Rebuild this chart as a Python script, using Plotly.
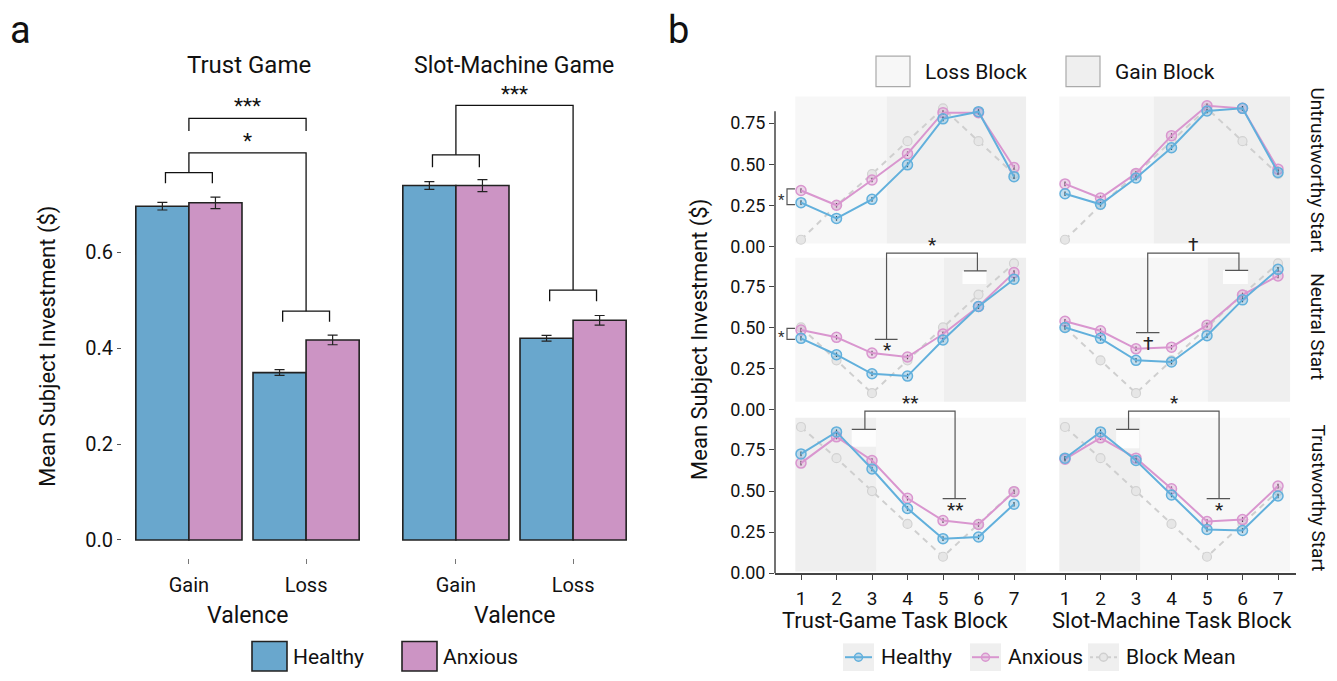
import plotly.graph_objects as go

W, H = 1337, 681
def fx(px): return px / W
def fy(py): return 1 - py / H

FONT = "Roboto, Liberation Sans, sans-serif"
TXT = "#111111"

# ---------------- Panel a data ----------------
valence = ["Gain", "Loss"]
trust_healthy = [0.696, 0.349]
trust_anxious = [0.703, 0.417]
trust_healthy_se = [0.008, 0.006]
trust_anxious_se = [0.012, 0.010]
slot_healthy = [0.739, 0.4205]
slot_anxious = [0.739, 0.458]
slot_healthy_se = [0.008, 0.006]
slot_anxious_se = [0.0125, 0.010]
bar_yticks = [0.0, 0.2, 0.4, 0.6]

# ---------------- Panel b data ----------------
blocks = [1, 2, 3, 4, 5, 6, 7]
starts = ["Untrustworthy Start", "Neutral Start", "Trustworthy Start"]
games = ["Trust-Game Task Block", "Slot-Machine Task Block"]

untr_mean = [0.04, 0.25, 0.44, 0.64, 0.84, 0.64, 0.44]
neut_mean = [0.50, 0.30, 0.10, 0.30, 0.50, 0.70, 0.89]
trus_mean = [0.89, 0.70, 0.50, 0.30, 0.10, 0.30, 0.50]

tg_untr_healthy = [0.266, 0.170, 0.286, 0.496, 0.776, 0.820, 0.424]
tg_untr_anxious = [0.340, 0.250, 0.404, 0.564, 0.814, 0.814, 0.480]
sm_untr_healthy = [0.320, 0.256, 0.416, 0.600, 0.824, 0.840, 0.450]
sm_untr_anxious = [0.380, 0.294, 0.444, 0.674, 0.856, 0.840, 0.470]

tg_neut_healthy = [0.434, 0.334, 0.218, 0.204, 0.424, 0.628, 0.794]
tg_neut_anxious = [0.484, 0.440, 0.344, 0.320, 0.460, 0.628, 0.834]
sm_neut_healthy = [0.500, 0.434, 0.300, 0.290, 0.450, 0.668, 0.854]
sm_neut_anxious = [0.538, 0.480, 0.370, 0.380, 0.514, 0.698, 0.814]

tg_trus_healthy = [0.726, 0.860, 0.634, 0.394, 0.210, 0.220, 0.420]
tg_trus_anxious = [0.670, 0.830, 0.686, 0.456, 0.320, 0.296, 0.496]
sm_trus_healthy = [0.700, 0.860, 0.686, 0.476, 0.266, 0.260, 0.470]
sm_trus_anxious = [0.694, 0.824, 0.700, 0.514, 0.314, 0.326, 0.530]

line_yticks = [0.0, 0.25, 0.5, 0.75]

# block shading: (first block type, switch position) per panel [row][col]
shade_first = ["Loss", "Loss", "Gain"]
shade_switch = [[3.41, 3.50], [5.03, 5.02], [3.13, 3.13]]
shade_x = [0.84, 7.34]
shade_y = [[0.018, 0.912], [0.048, 0.925], [0.01, 0.946]]

C_HEALTHY = "#69a7cd"
C_ANXIOUS = "#cc94c4"
L_HEALTHY = "#62b0dc"
L_ANXIOUS = "#d996cf"
L_MEAN = "#cfcfcf"
LOSS_BG = "#f7f7f7"
GAIN_BG = "#efefef"

fig = go.Figure()
layout = {}
shapes = []
annos = []

# ================= Panel a =================
a_y0, a_ppu = 548.0, 486.7
a_yr = [-(566 - a_y0) / a_ppu, (a_y0 - 76) / a_ppu]
a_ydom = [fy(a_y0 - a_yr[0] * a_ppu), fy(a_y0 - a_yr[1] * a_ppu)]
a_xr = [-0.571, 1.571]
a_xdoms = [[fx(122), fx(373)], [fx(389), fx(640)]]
panel_a = [(trust_healthy, trust_healthy_se, trust_anxious, trust_anxious_se),
           (slot_healthy, slot_healthy_se, slot_anxious, slot_anxious_se)]
for i, (h, hse, a, ase) in enumerate(panel_a):
    xn = "x" if i == 0 else "x2"
    yn = "y" if i == 0 else "y2"
    for vals, se, col in ((h, hse, C_HEALTHY), (a, ase, C_ANXIOUS)):
        fig.add_trace(go.Bar(
            x=list(range(len(valence))), y=vals, xaxis=xn, yaxis=yn,
            marker=dict(color=col, line=dict(color="#222222", width=1.6)),
            error_y=dict(type="data", array=se, color="#222222", thickness=1.2, width=5),
            showlegend=False, hoverinfo="skip"))
    layout["xaxis" if i == 0 else "xaxis2"] = dict(
        domain=a_xdoms[i], range=a_xr, anchor=yn,
        tickvals=list(range(len(valence))), ticktext=valence,
        ticks="outside", ticklen=5, tickcolor="#777777", tickwidth=1.2,
        showline=False, showgrid=False, zeroline=False, ticklabelstandoff=4,
        tickfont=dict(family=FONT, size=20, color=TXT))
    layout["yaxis" if i == 0 else "yaxis2"] = dict(
        domain=a_ydom, range=a_yr, anchor=xn,
        tickvals=bar_yticks, ticktext=[f"{v:.1f}" for v in bar_yticks],
        ticks="outside" if i == 0 else "", ticklen=4, tickcolor="#555555",
        showticklabels=(i == 0), showline=False, showgrid=False, zeroline=False,
        tickfont=dict(family=FONT, size=20, color=TXT))

def path(pts):
    return "M " + " L ".join(f"{x},{y}" for x, y in pts)

def add_path(pts, xr, yr, color="#111111", w=1.3):
    shapes.append(dict(type="path", path=path(pts), xref=xr, yref=yr,
                       line=dict(color=color, width=w), layer="above"))

# trust brackets
add_path([(-0.2, 0.744), (-0.2, 0.766), (0.2, 0.766), (0.2, 0.744)], "x", "y")
add_path([(0.8, 0.455), (0.8, 0.477), (1.2, 0.477), (1.2, 0.455)], "x", "y")
add_path([(0, 0.766), (0, 0.807), (1, 0.807), (1, 0.477)], "x", "y")
add_path([(0, 0.853), (0, 0.879), (1, 0.879), (1, 0.853)], "x", "y")
annos.append(dict(x=0.5, y=0.879, xref="x", yref="y", text="***", showarrow=False,
                  yanchor="bottom", yshift=-2, font=dict(family=FONT, size=21, color=TXT)))
annos.append(dict(x=0.5, y=0.807, xref="x", yref="y", text="*", showarrow=False,
                  yanchor="bottom", yshift=-2, font=dict(family=FONT, size=21, color=TXT)))
# slot brackets
add_path([(-0.2, 0.777), (-0.2, 0.803), (0.2, 0.803), (0.2, 0.777)], "x2", "y2")
add_path([(0.8, 0.498), (0.8, 0.521), (1.2, 0.521), (1.2, 0.498)], "x2", "y2")
add_path([(0, 0.803), (0, 0.906), (1, 0.906), (1, 0.521)], "x2", "y2")
annos.append(dict(x=0.5, y=0.906, xref="x2", yref="y2", text="***", showarrow=False,
                  yanchor="bottom", yshift=-3, font=dict(family=FONT, size=21, color=TXT)))

# ================= Panel b =================
b_ppu = 166.7
row_zero = [250.0, 415.7, 581.7]
row_range = [[-0.03, 1.0], [-0.03, 1.0], [0.0, 1.0]]
col_x1 = [801.0, 1065.0]
b_pxu = 35.5
col_dom = [[775.0, 1043.0], [1043.0, 1296.0]]

data_b = [
    [(tg_untr_healthy, tg_untr_anxious, untr_mean), (sm_untr_healthy, sm_untr_anxious, untr_mean)],
    [(tg_neut_healthy, tg_neut_anxious, neut_mean), (sm_neut_healthy, sm_neut_anxious, neut_mean)],
    [(tg_trus_healthy, tg_trus_anxious, trus_mean), (sm_trus_healthy, sm_trus_anxious, trus_mean)],
]

def ax_names(r, c):
    k = 3 + r * 2 + c
    return f"x{k}", f"y{k}", f"xaxis{k}", f"yaxis{k}"

for r in range(3):
    for c in range(2):
        xn, yn, xk, yk = ax_names(r, c)
        xr = [1 + (col_dom[c][0] - col_x1[c]) / b_pxu, 1 + (col_dom[c][1] - col_x1[c]) / b_pxu]
        yr = row_range[r]
        ydom = [fy(row_zero[r] - yr[0] * b_ppu), fy(row_zero[r] - yr[1] * b_ppu)]
        bottom = (r == 2)
        layout[xk] = dict(domain=[fx(col_dom[c][0]), fx(col_dom[c][1])], range=xr, anchor=yn,
                          tickvals=blocks, ticktext=[str(b) for b in blocks],
                          showticklabels=bottom, ticks="outside" if bottom else "",
                          ticklen=5, tickcolor="#444444", tickwidth=1.2,
                          showline=bottom, linecolor="#444444", linewidth=1.5,
                          showgrid=False, zeroline=False, ticklabelstandoff=2,
                          tickfont=dict(family=FONT, size=19, color=TXT))
        layout[yk] = dict(domain=ydom, range=yr, anchor=xn,
                          tickvals=line_yticks, ticktext=[f"{v:.2f}" for v in line_yticks],
                          showticklabels=(c == 0), ticks="outside" if c == 0 else "",
                          ticklen=5, tickcolor="#444444", tickwidth=1.2,
                          showline=False, showgrid=False, zeroline=False,
                          tickfont=dict(family=FONT, size=18, color=TXT))
        # block shading
        sw = shade_switch[r][c]
        first_col = LOSS_BG if shade_first[r] == "Loss" else GAIN_BG
        second_col = GAIN_BG if shade_first[r] == "Loss" else LOSS_BG
        shapes.append(dict(type="rect", xref=xn, yref=yn, x0=shade_x[0], x1=sw,
                           y0=shade_y[r][0], y1=shade_y[r][1], fillcolor=first_col,
                           line=dict(width=0), layer="below"))
        shapes.append(dict(type="rect", xref=xn, yref=yn, x0=sw, x1=shade_x[1],
                           y0=shade_y[r][0], y1=shade_y[r][1], fillcolor=second_col,
                           line=dict(width=0), layer="below"))
        h, a, m = data_b[r][c]
        fig.add_trace(go.Scatter(x=blocks, y=m, xaxis=xn, yaxis=yn, mode="lines+markers",
                                 line=dict(color=L_MEAN, width=2, dash="6px,5px"),
                                 marker=dict(size=9, color="#e6e6e6", line=dict(color="#d2d2d2", width=1.2)),
                                 showlegend=False, hoverinfo="skip"))
        for vals, lc, fc in ((a, L_ANXIOUS, "rgba(217,150,207,0.35)"),
                             (h, L_HEALTHY, "rgba(98,176,220,0.35)")):
            fig.add_trace(go.Scatter(x=blocks, y=vals, xaxis=xn, yaxis=yn, mode="lines+markers",
                                     line=dict(color=lc, width=2),
                                     marker=dict(size=10, color=fc, line=dict(color=lc, width=1.5)),
                                     error_y=dict(type="constant", value=0.014, color="#222222",
                                                  thickness=1.2, width=0),
                                     showlegend=False, hoverinfo="skip"))

# white label boxes behind bracket ticks
def wbox(r, c, x0, x1, y0, y1):
    xn, yn, _, _ = ax_names(r, c)
    shapes.append(dict(type="rect", xref=xn, yref=yn, x0=x0, x1=x1, y0=y0, y1=y1,
                       fillcolor="#fdfdfd", line=dict(width=0), layer="below"))
wbox(1, 0, 5.55, 6.22, 0.765, 0.844)
wbox(1, 1, 5.45, 6.15, 0.765, 0.848)
wbox(2, 0, 2.43, 3.11, 0.77, 0.876)
wbox(2, 1, 2.44, 3.09, 0.76, 0.876)

BR = "#555555"
SIG = dict(family=FONT, size=19, color="#222222")
# left mini brackets
for r, c, yt, yb in ((0, 0, 0.350, 0.254), (1, 0, 0.494, 0.428)):
    xn, yn, _, _ = ax_names(r, c)
    add_path([(0.83, yt), (0.606, yt), (0.606, yb), (0.83, yb)], xn, yn, BR, 1.2)
    annos.append(dict(x=0.606, y=(yt + yb) / 2, xref=xn, yref=yn, text="*", showarrow=False,
                      xanchor="right", yanchor="middle", yshift=-3, font=dict(family=FONT, size=15, color="#333333")))

# big brackets: (r, c, xl, xr, ytop, yl, yr, tick-left, tick-right, label)
big = [
    (1, 0, 3.41, 5.97, 0.952, 0.428, 0.844, (3.08, 3.72), (5.59, 6.23), "*"),
    (1, 1, 3.33, 5.90, 0.952, 0.468, 0.848, (3.00, 3.66), (5.51, 6.16), "†"),
    (2, 0, 2.80, 5.34, 0.986, 0.876, 0.454, (2.43, 3.11), (4.99, 5.65), "**"),
    (2, 1, 2.79, 5.34, 0.986, 0.876, 0.454, (2.44, 3.09), (4.99, 5.65), "*"),
]
for r, c, xl, xr_, yt, yl, yr_, tl, tr, lab in big:
    xn, yn, _, _ = ax_names(r, c)
    add_path([(xl, yl), (xl, yt), (xr_, yt), (xr_, yr_)], xn, yn, BR, 1.2)
    add_path([(tl[0], yl), (tl[1], yl)], xn, yn, BR, 1.2)
    add_path([(tr[0], yr_), (tr[1], yr_)], xn, yn, BR, 1.2)
    annos.append(dict(x=(xl + xr_) / 2, y=yt, xref=xn, yref=yn, text=lab, showarrow=False,
                      yanchor="bottom", yshift=-5, font=SIG))
    low_x, low_y = (xl, yl) if yl < yr_ else (xr_, yr_)
    annos.append(dict(x=low_x, y=low_y, xref=xn, yref=yn, text=lab, showarrow=False,
                      yanchor="top", yshift=3, font=SIG))

# y axis line panel b
shapes.append(dict(type="line", xref="paper", yref="paper", x0=fx(775), x1=fx(775),
                   y0=fy(113), y1=fy(581.7), line=dict(color="#444444", width=1.5)))

# ---------------- text annotations ----------------
def txt(x, y, s, size, angle=0, xanchor="center", color=TXT):
    annos.append(dict(x=fx(x), y=fy(y), xref="paper", yref="paper", text=s, showarrow=False,
                      textangle=angle, xanchor=xanchor, yanchor="middle",
                      font=dict(family=FONT, size=size, color=color)))

txt(8, 30, "a", 38, xanchor="left")
txt(666, 30, "b", 38, xanchor="left")
txt(249, 66, "Trust Game", 24)
txt(514, 66, "Slot-Machine Game", 23)
txt(247, 625, "Valence", 23)
txt(514, 625, "Valence", 23)
txt(48, 352, "Mean Subject Investment ($)", 22, angle=-90)
txt(700, 345, "Mean Subject Investment ($)", 22, angle=-90)
txt(895, 630, games[0], 22)
txt(1172, 630, games[1], 22)
txt(1318, 172, starts[0], 19, angle=90)
txt(1318, 331, starts[1], 19, angle=90)
txt(1318, 505, starts[2], 19, angle=90)

# legend panel a
for x0, col, lab in ((252, C_HEALTHY, "Healthy"), (402, C_ANXIOUS, "Anxious")):
    shapes.append(dict(type="rect", xref="paper", yref="paper", x0=fx(x0), x1=fx(x0 + 35),
                       y0=fy(681), y1=fy(651), fillcolor=col, line=dict(color="#222222", width=1.6)))
    txt(x0 + 39, 667, lab, 21, xanchor="left")

# legend block shading
for x0, col, lab in ((876, LOSS_BG, "Loss Block"), (1066, GAIN_BG, "Gain Block")):
    shapes.append(dict(type="rect", xref="paper", yref="paper", x0=fx(x0), x1=fx(x0 + 34),
                       y0=fy(88), y1=fy(57), fillcolor=col, line=dict(color="#aaaaaa", width=1.2)))
    txt(x0 + 47, 73, lab, 21, xanchor="left")

# legend panel b
for x0, lc, fc, lab, dash in ((843, L_HEALTHY, "rgba(98,176,220,0.35)", "Healthy", "solid"),
                              (970, L_ANXIOUS, "rgba(217,150,207,0.35)", "Anxious", "solid"),
                              (1088, L_MEAN, "#e6e6e6", "Block Mean", "dot")):
    shapes.append(dict(type="rect", xref="paper", yref="paper", x0=fx(x0), x1=fx(x0 + 31),
                       y0=fy(681), y1=fy(653), fillcolor="#efefef", line=dict(width=0)))
    shapes.append(dict(type="line", xref="paper", yref="paper", x0=fx(x0 + 2), x1=fx(x0 + 29),
                       y0=fy(667), y1=fy(667), line=dict(color=lc, width=2, dash=dash)))
    shapes.append(dict(type="circle", xref="paper", yref="paper", x0=fx(x0 + 11.5), x1=fx(x0 + 19.5),
                       y0=fy(671), y1=fy(663), fillcolor=fc, line=dict(color=lc, width=1.5)))
    txt(x0 + 36, 667, lab, 21, xanchor="left")

layout.update(dict(
    width=W, height=H, margin=dict(l=0, r=0, t=0, b=0),
    paper_bgcolor="white", plot_bgcolor="rgba(0,0,0,0)",
    barmode="group", bargap=0.094, bargroupgap=0,
    shapes=shapes, annotations=annos, showlegend=False,
    font=dict(family=FONT, color=TXT),
))
fig.update_layout(**layout)
fig.write_html("out.html", config={"displayModeBar": False})
